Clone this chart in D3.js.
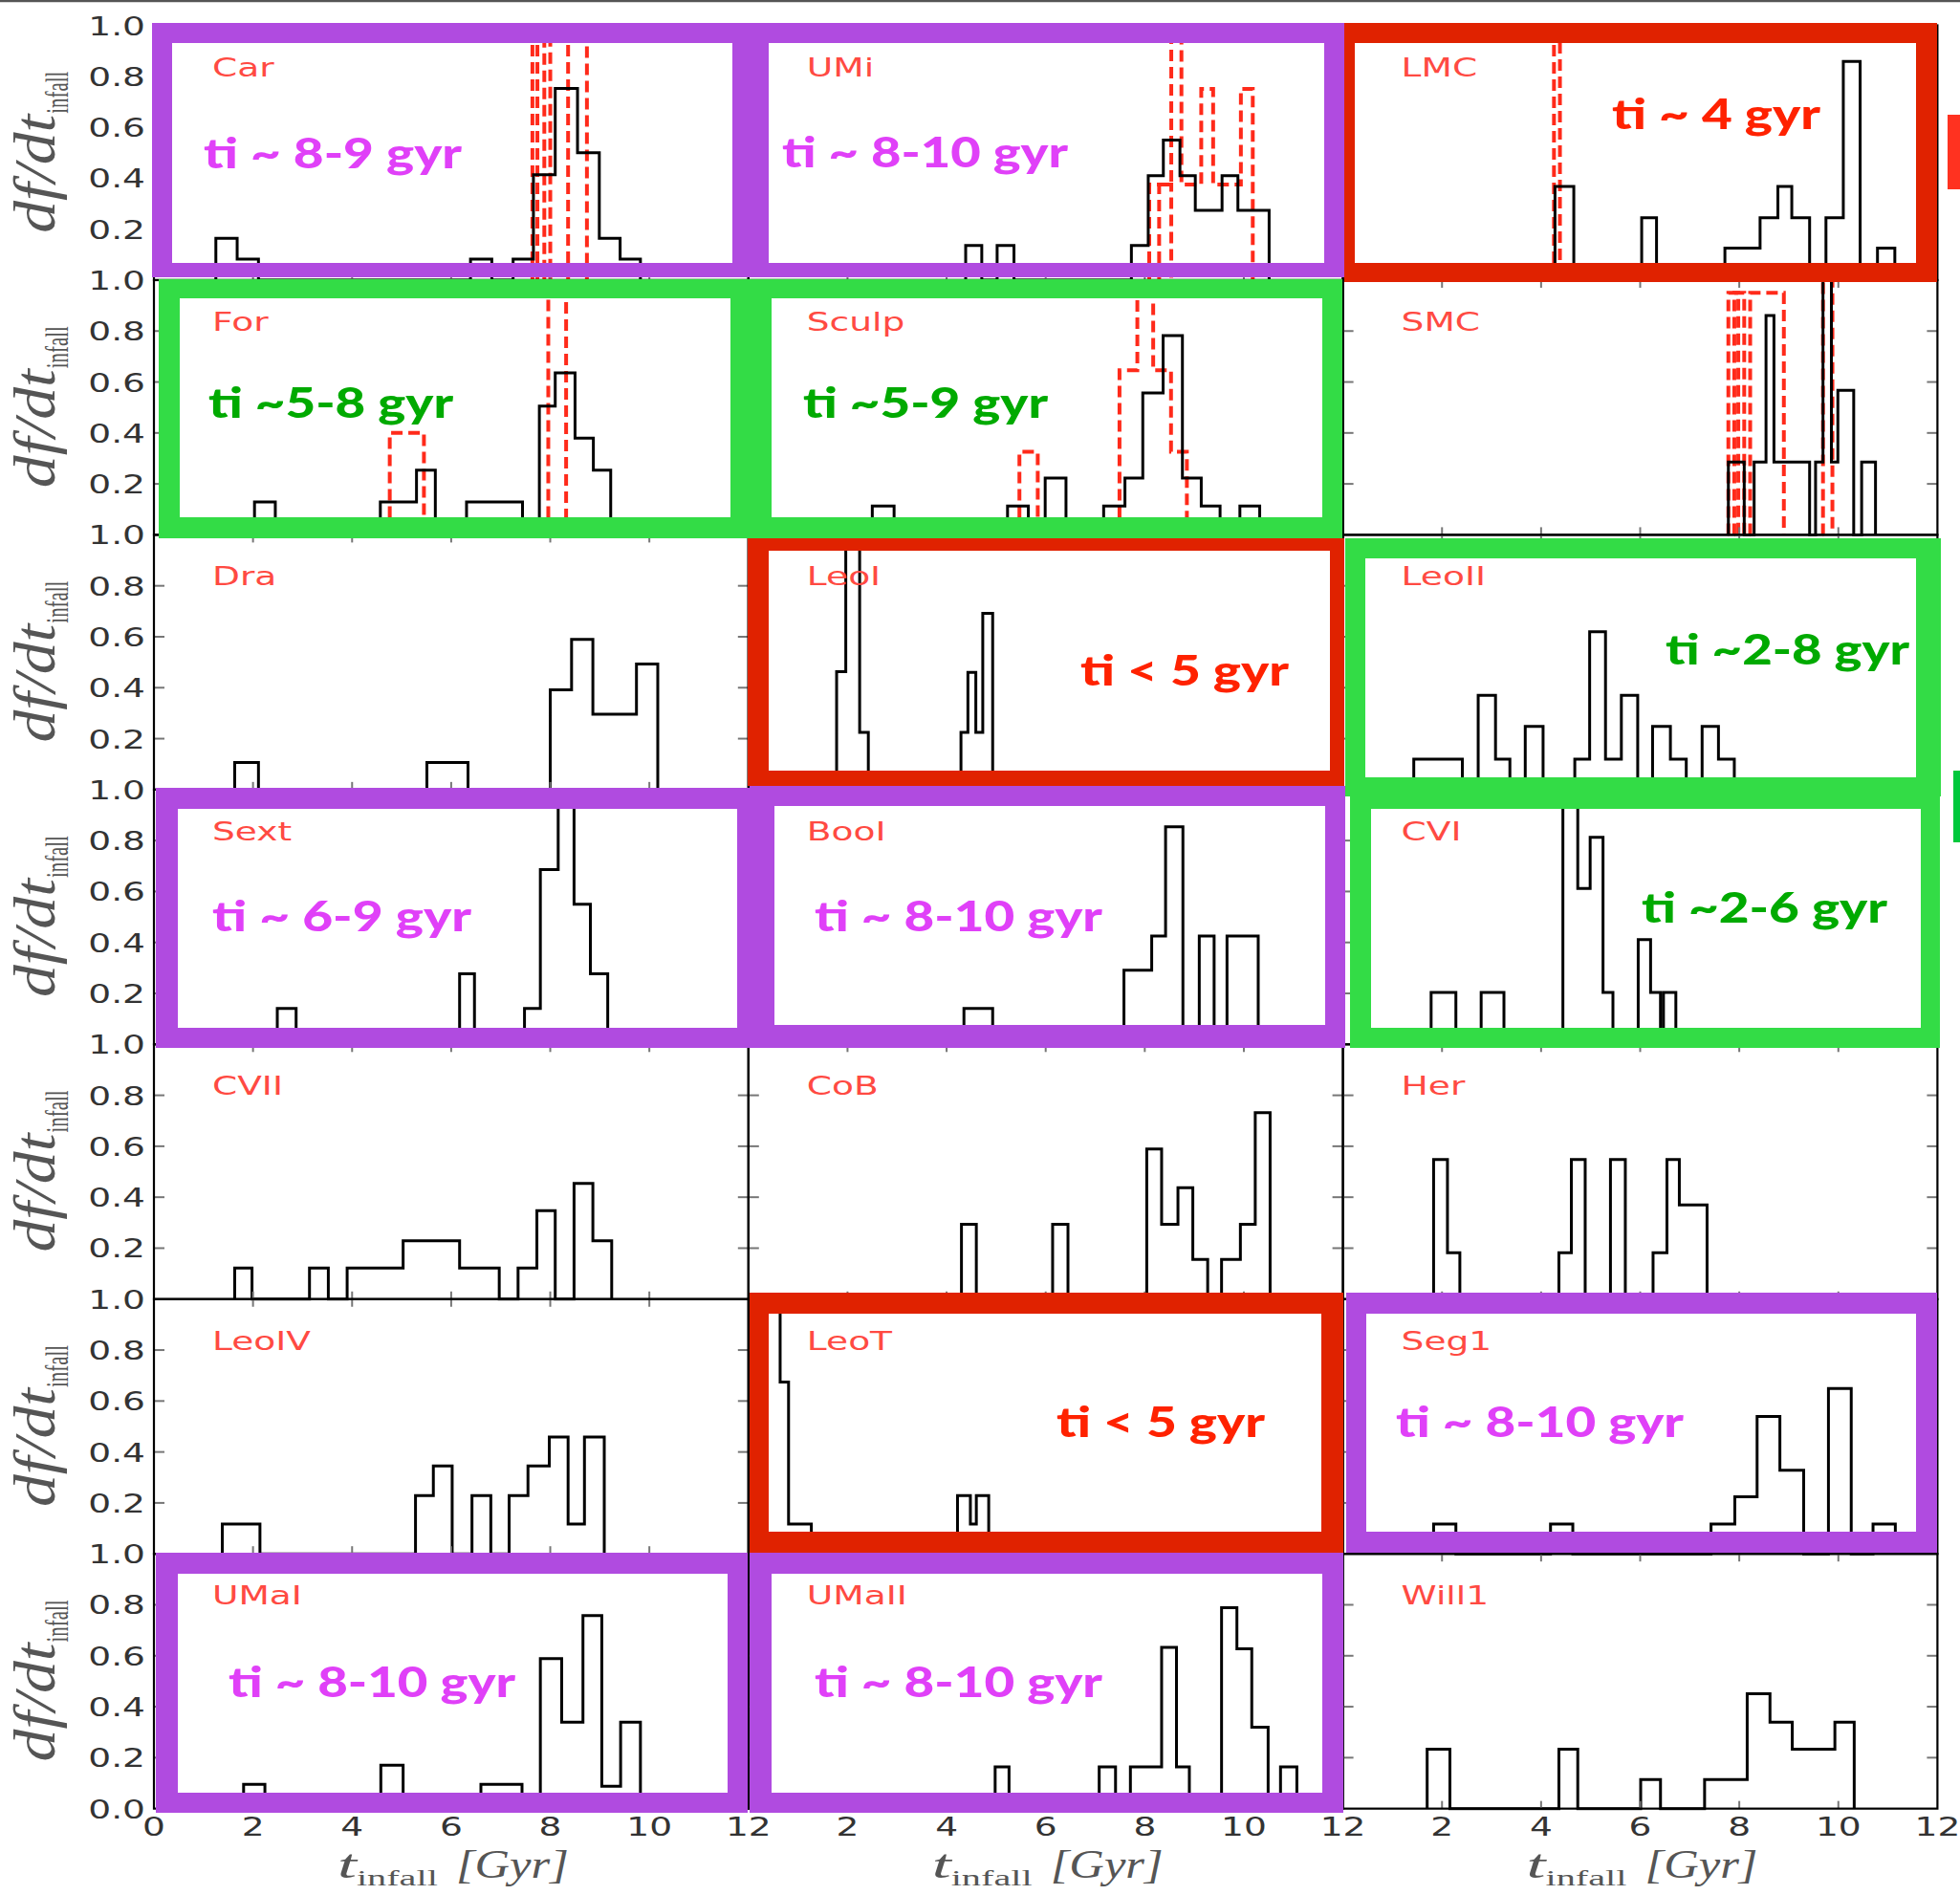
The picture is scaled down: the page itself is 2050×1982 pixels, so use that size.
<!DOCTYPE html>
<html><head><meta charset="utf-8">
<script src="https://cdn.jsdelivr.net/npm/d3@7"></script>
<style>body{margin:0;background:#fff}svg{display:block}</style>
</head><body><svg id="c" width="2050" height="1982"></svg>
<script>
// ---------------- DATA ----------------
const panelNames = ["Car","UMi","LMC","For","Sculp","SMC","Dra","LeoI","LeoII","Sext","BooI","CVI","CVII","CoB","Her","LeoIV","LeoT","Seg1","UMaI","UMaII","Will1"];
// step lists: [edge, height from this edge on]; last entry returns to 0
const Car_black = [[1.25,0.164],[1.68,0.082],[2.11,0],[6.39,0.082],[6.82,0],[7.25,0.082],[7.66,0.414],[8.10,0.752],[8.55,0.5],[8.99,0.164],[9.41,0.082],[9.82,0]];
const Car_red1 = [[7.64,1.3],[7.88,0]];
const Car_red2 = [[7.74,1.3],[8.0,0]];
const Car_red3 = [[8.36,1.3],[8.74,0]];
const UMi_black = [[4.385,0.136],[4.71,0],[5.02,0.136],[5.36,0],[7.73,0.136],[8.07,0.41],[8.375,0.55],[8.71,0.41],[9.02,0.274],[9.56,0.41],[9.88,0.274],[10.51,0]];
const UMi_red1 = [[8.09,0.375],[8.535,1.3],[8.74,0.375],[9.14,0.75],[9.38,0.375],[9.94,0.75],[10.18,0]];
const UMi_red2 = [[8.29,0.375],[8.535,0]];
const LMC_black = [[4.28,0.368],[4.66,0],[6.03,0.245],[6.33,0],[7.71,0.126],[8.42,0.245],[8.78,0.368],[9.06,0.245],[9.42,0],[9.75,0.245],[10.1,0.858],[10.44,0],[10.79,0.126],[11.14,0]];
const LMC_red1 = [[4.26,1.3],[4.38,0]];
const For_black = [[2.03,0.129],[2.45,0],[4.57,0.129],[5.3,0.254],[5.68,0],[6.31,0.129],[7.44,0],[7.78,0.505],[8.1,0.636],[8.5,0.38],[8.87,0.254],[9.22,0]];
const For_red1 = [[4.76,0.4],[5.45,0]];
const For_red2 = [[7.96,1.3],[8.32,0]];
const Sculp_black = [[2.5,0.113],[2.94,0],[5.23,0.113],[5.65,0],[5.99,0.223],[6.41,0],[7.17,0.113],[7.6,0.223],[7.96,0.557],[8.37,0.782],[8.76,0.223],[9.14,0.113],[9.52,0],[9.92,0.113],[10.32,0]];
const Sculp_red1 = [[5.47,0.326],[5.84,0]];
const Sculp_red2 = [[7.49,0.646],[7.85,1.3],[8.17,0.646],[8.53,0.326],[8.85,0]];
const SMC_black = [[7.78,0.286],[8.1,0],[8.3,0.286],[8.54,0.861],[8.7,0.286],[9.42,0],[9.54,0.286],[9.69,1.3],[9.86,0.286],[9.99,0.567],[10.31,0],[10.47,0.286],[10.75,0]];
const SMC_red1 = [[7.78,0.95],[7.98,0]];
const SMC_red2 = [[7.9,0.95],[8.1,0]];
const SMC_red3 = [[8.22,0.95],[8.9,0]];
const SMC_red4 = [[9.69,1.3],[9.88,0]];
const Dra_black = [[1.63,0.106],[2.11,0],[5.51,0.106],[6.34,0],[8.0,0.392],[8.43,0.59],[8.86,0.296],[9.74,0.493],[10.17,0]];
const LeoI_black = [[1.78,0.463],[1.965,1.3],[2.245,0.225],[2.42,0],[4.29,0.225],[4.43,0.46],[4.59,0.225],[4.73,0.692],[4.93,0]];
const LeoII_black = [[1.43,0.12],[2.41,0],[2.73,0.37],[3.08,0.12],[3.37,0],[3.68,0.248],[4.04,0],[4.68,0.12],[4.98,0.62],[5.3,0.12],[5.62,0.37],[5.95,0],[6.25,0.248],[6.61,0.12],[6.93,0],[7.25,0.248],[7.58,0.12],[7.9,0]];
const Sext_black = [[2.49,0.141],[2.87,0],[6.17,0.277],[6.47,0],[7.48,0.141],[7.8,0.686],[8.16,1.3],[8.48,0.55],[8.81,0.277],[9.16,0]];
const BooI_black = [[4.35,0.141],[4.93,0],[7.58,0.291],[8.14,0.425],[8.42,0.854],[8.77,0],[9.1,0.425],[9.4,0],[9.66,0.425],[10.29,0]];
const CVI_black = [[1.78,0.204],[2.28,0],[2.79,0.204],[3.25,0],[4.44,1.3],[4.74,0.612],[4.99,0.813],[5.25,0.204],[5.45,0],[5.96,0.411],[6.21,0.204],[6.41,0],[6.47,0.204],[6.72,0]];
const CVII_black = [[1.63,0.122],[1.98,0],[3.14,0.122],[3.52,0],[3.9,0.122],[5.03,0.229],[6.17,0.122],[6.97,0],[7.35,0.122],[7.73,0.347],[8.1,0],[8.48,0.454],[8.86,0.229],[9.24,0]];
const CoB_black = [[4.3,0.294],[4.6,0],[6.14,0.294],[6.45,0],[8.04,0.589],[8.34,0.294],[8.67,0.437],[8.97,0.156],[9.27,0],[9.55,0.156],[9.93,0.294],[10.23,0.732],[10.53,0]];
const Her_black = [[1.83,0.548],[2.11,0.182],[2.36,0],[4.36,0.182],[4.61,0.548],[4.89,0],[5.4,0.548],[5.7,0],[6.26,0.182],[6.54,0.548],[6.79,0.37],[7.35,0]];
const LeoIV_black = [[1.38,0.117],[2.14,0],[5.28,0.229],[5.64,0.345],[6.02,0],[6.42,0.229],[6.8,0],[7.17,0.229],[7.55,0.345],[7.98,0.459],[8.36,0.117],[8.69,0.459],[9.09,0]];
const LeoT_black = [[0.3,1.3],[0.64,0.674],[0.81,0.117],[1.27,0],[4.22,0.229],[4.48,0.117],[4.6,0.229],[4.85,0]];
const Seg1_black = [[1.83,0.117],[2.28,0],[4.19,0.117],[4.64,0],[7.43,0.117],[7.91,0.224],[8.36,0.539],[8.82,0.328],[9.3,0],[9.8,0.649],[10.26,0],[10.7,0.117],[11.15,0]];
const UMaI_black = [[1.81,0.095],[2.24,0],[4.58,0.17],[5.03,0],[6.6,0.095],[7.43,0],[7.8,0.589],[8.23,0.339],[8.66,0.758],[9.04,0.088],[9.42,0.339],[9.82,0]];
const UMaII_black = [[4.98,0.164],[5.26,0],[7.08,0.164],[7.41,0],[7.71,0.164],[8.34,0.633],[8.64,0.164],[8.9,0],[9.55,0.789],[9.86,0.627],[10.16,0.32],[10.49,0],[10.74,0.164],[11.07,0]];
const Will1_black = [[1.7,0.233],[2.16,0],[4.36,0.233],[4.74,0],[6.01,0.114],[6.41,0],[7.3,0.114],[8.16,0.451],[8.62,0.339],[9.07,0.233],[9.93,0.339],[10.32,0]];

const blackSeries = [Car_black,UMi_black,LMC_black,For_black,Sculp_black,SMC_black,Dra_black,LeoI_black,LeoII_black,Sext_black,BooI_black,CVI_black,CVII_black,CoB_black,Her_black,LeoIV_black,LeoT_black,Seg1_black,UMaI_black,UMaII_black,Will1_black];
const redSeries = {Car:[Car_red1,Car_red2,Car_red3], UMi:[UMi_red1,UMi_red2], LMC:[LMC_red1], For:[For_red1,For_red2], Sculp:[Sculp_red1,Sculp_red2], SMC:[SMC_red1,SMC_red2,SMC_red3,SMC_red4]};

const xTickValues = [0,2,4,6,8,10,12];
const yTickValues = [0.2,0.4,0.6,0.8];
const yTickLabels = ["0.2","0.4","0.6","0.8"];
const yTopLabel = "1.0", yBottomLabel = "0.0";

// annotation texts (highlight boxes)
const annotPanels = ["Car","UMi","LMC","For","Sculp","LeoI","LeoII","Sext","BooI","CVI","LeoT","Seg1","UMaI","UMaII"];
const annotTexts  = ["ti ~ 8-9 gyr","ti ~ 8-10 gyr","ti ~ 4 gyr","ti ~5-8 gyr","ti ~5-9 gyr","ti < 5 gyr","ti ~2-8 gyr","ti ~ 6-9 gyr","ti ~ 8-10 gyr","ti ~2-6 gyr","ti < 5 gyr","ti ~ 8-10 gyr","ti ~ 8-10 gyr","ti ~ 8-10 gyr"];
const annotKinds  = ["purple","purple","red","green","green","red","green","purple","purple","green","red","purple","purple","purple"];

// ---------------- LAYOUT / STYLE ----------------
const colLeft0 = 161, colW = 621.8, rowTop0 = 26.5, rowH = 266.45;
const boxColor = {purple:"#B04BE0", green:"#33DC46", red:"#E02200"};
const annColor = {purple:"#E040F8", green:"#00AA00", red:"#FF2200"};
const SX = 1.39; // horizontal stretch of the original figure
const boxGeom = {
  Car:[[159,24,784,290],[180,45,766,275]],
  UMi:[[780,24,1406,290],[804,45,1385,275]],
  LMC:[[1406,24,2026,295],[1417,45,2004,275]],
  For:[[166,292,786,563],[188,312,764,541]],
  Sculp:[[782,292,1404,563],[807,312,1383,541]],
  LeoI:[[782,563,1406,822],[804,576,1391,806]],
  LeoII:[[1407,563,2030,833],[1428,584,2004,813]],
  Sext:[[163,824,784,1096],[186,846,771,1075]],
  BooI:[[784,822,1407,1096],[810,843,1386,1072]],
  CVI:[[1412,833,2029,1096],[1434,846,2009,1075]],
  LeoT:[[784,1352,1405,1625],[804,1374,1382,1602]],
  Seg1:[[1408,1352,2026,1624],[1429,1374,2004,1602]],
  UMaI:[[163,1624,782,1896],[186,1646,761,1875]],
  UMaII:[[784,1624,1405,1896],[807,1646,1383,1875]]
};
const annotPos = {
  Car:[213,176,270], UMi:[818,175,299], LMC:[1686,135,218], For:[218,437,256], Sculp:[840,437,256],
  LeoI:[1130,717,218], LeoII:[1742,695,255], Sext:[222,974,271], BooI:[852,974,301], CVI:[1717,965,257],
  LeoT:[1105,1503,218], Seg1:[1460,1503,301], UMaI:[239,1775,300], UMaII:[852,1775,301]
};

const svg = d3.select("#c");
svg.append("rect").attr("width",2050).attr("height",1982).attr("fill","#fff");
svg.append("line").attr("x1",0).attr("x2",2050).attr("y1",1).attr("y2",1).attr("stroke","#555").attr("stroke-width",2.5);
const defs = svg.append("defs");

function stretchedText(g, x, y, str, size, anchor, fill, family, sx) {
  return g.append("text").attr("transform", `translate(${x},${y}) scale(${sx},1)`)
    .attr("text-anchor", anchor).attr("font-family", family).attr("font-size", size)
    .attr("fill", fill).text(str);
}

const panels = panelNames.map((name,i) => {
  const r = Math.floor(i/3), c = i%3;
  const left = colLeft0 + c*colW, top = rowTop0 + r*rowH;
  const x = d3.scaleLinear().domain([0,12]).range([left, left+colW]);
  const y = d3.scaleLinear().domain([0,1]).range([top+rowH, top]);
  return {name, i, r, c, x, y, left, top, black: blackSeries[i], red: redSeries[name] || []};
});

const lineGen = (x,y) => d3.line().x(d=>x(d[0])).y(d=>y(d[1])).curve(d3.curveStepAfter);
function stepPoints(steps){ return [[steps[0][0],0], ...steps]; }

const gHist = svg.append("g");
panels.forEach(p => {
  const cid = "clip"+p.i;
  defs.append("clipPath").attr("id",cid).append("rect")
    .attr("x",p.left).attr("y",p.top).attr("width",colW).attr("height",rowH+2);
  const g = gHist.append("g").attr("clip-path",`url(#${cid})`);
  const lg = lineGen(p.x,p.y);
  p.red.forEach(s => {
    g.append("path").attr("d", lg(stepPoints(s))).attr("fill","none")
      .attr("stroke","#FF2A1A").attr("stroke-width",4).attr("stroke-dasharray","12,6");
  });
  g.append("path").attr("d", lg(stepPoints(p.black))).attr("fill","none")
    .attr("stroke","#000").attr("stroke-width",3);
});

// spines and ticks
const gAx = svg.append("g");
panels.forEach(p => {
  const [x0,x1] = p.x.range(), [y1,y0] = p.y.range();
  xTickValues.slice(1,-1).forEach(t => {
    gAx.append("line").attr("x1",p.x(t)).attr("x2",p.x(t)).attr("y1",y1).attr("y2",y1-8).attr("stroke","#777").attr("stroke-width",2);
    gAx.append("line").attr("x1",p.x(t)).attr("x2",p.x(t)).attr("y1",y0).attr("y2",y0+8).attr("stroke","#777").attr("stroke-width",2);
  });
  yTickValues.forEach(v => {
    gAx.append("line").attr("x1",x0).attr("x2",x0+11).attr("y1",p.y(v)).attr("y2",p.y(v)).attr("stroke","#777").attr("stroke-width",2);
    gAx.append("line").attr("x1",x1).attr("x2",x1-11).attr("y1",p.y(v)).attr("y2",p.y(v)).attr("stroke","#777").attr("stroke-width",2);
  });
  gAx.append("rect").attr("x",x0).attr("y",y0).attr("width",x1-x0).attr("height",y1-y0)
    .attr("fill","none").attr("stroke","#000").attr("stroke-width",2.2);
  stretchedText(gAx, x0+61, y0+53, p.name, 27, "start", "#FF4A42", "DejaVu Sans", SX);
});

// highlight boxes + annotation texts
const gBox = svg.append("g");
annotPanels.forEach((name,k) => {
  const [o,inn] = boxGeom[name];
  const d = `M${o[0]},${o[1]}H${o[2]}V${o[3]}H${o[0]}Z M${inn[0]},${inn[1]}H${inn[2]}V${inn[3]}H${inn[0]}Z`;
  gBox.append("path").attr("d",d).attr("fill",boxColor[annotKinds[k]]).attr("fill-rule","evenodd");
});
annotPanels.forEach((name,k) => {
  const [ax,ay,aw] = annotPos[name];
  gBox.append("text").attr("x",ax).attr("y",ay).attr("font-family","Lato, 'Open Sans', sans-serif")
    .attr("font-weight",900).attr("font-size",44).attr("fill",annColor[annotKinds[k]])
    .attr("textLength",aw).attr("lengthAdjust","spacingAndGlyphs").text(annotTexts[k]);
});

// side marks at right edge
svg.append("rect").attr("x",2037).attr("y",120).attr("width",13).attr("height",78).attr("fill","#FF3220");
svg.append("rect").attr("x",2043).attr("y",806).attr("width",7).attr("height",75).attr("fill","#00C83C");

// tick labels
const gLab = svg.append("g");
const nRows = 7;
for (let r=0; r<nRows; r++){
  const p = panels[r*3];
  stretchedText(gLab, 152, p.y(1)+10, yTopLabel, 27, "end", "#333", "DejaVu Sans", SX);
  yTickValues.forEach((v,j) => stretchedText(gLab, 152, p.y(v)+10, yTickLabels[j], 27, "end", "#333", "DejaVu Sans", SX));
  if (r===nRows-1) stretchedText(gLab, 152, p.y(0)+10, yBottomLabel, 27, "end", "#333", "DejaVu Sans", SX);
  const cy = p.y(0.5);
  const g = gLab.append("g").attr("transform",`translate(57,${cy}) scale(${SX},1) rotate(-90)`);
  g.append("text").attr("x",-84).attr("y",0).attr("font-family","'Liberation Serif', serif").attr("font-style","italic")
    .attr("font-size",44).attr("fill","#555").attr("textLength",124).attr("lengthAdjust","spacingAndGlyphs").text("df/dt");
  g.append("text").attr("x",41).attr("y",10).attr("font-family","'Liberation Serif', serif")
    .attr("font-size",24).attr("fill","#555").attr("textLength",44).attr("lengthAdjust","spacingAndGlyphs").text("infall");
}
for (let c=0; c<3; c++){
  const p = panels[18+c];
  xTickValues.forEach(t => {
    if (c>0 && t===0) return;
    stretchedText(gLab, p.x(t), 1920, String(t), 27, "middle", "#333", "DejaVu Sans", SX);
  });
  const cx = p.x(6);
  gLab.append("text").attr("x",cx-119).attr("y",1964).attr("font-family","'Liberation Serif', serif").attr("font-style","italic")
    .attr("font-size",42).attr("fill","#555").attr("textLength",20).attr("lengthAdjust","spacingAndGlyphs").text("t");
  gLab.append("text").attr("x",cx-99).attr("y",1972).attr("font-family","'Liberation Serif', serif")
    .attr("font-size",24).attr("fill","#555").attr("textLength",85).attr("lengthAdjust","spacingAndGlyphs").text("infall");
  gLab.append("text").attr("x",cx+5).attr("y",1964).attr("font-family","'Liberation Serif', serif").attr("font-style","italic")
    .attr("font-size",42).attr("fill","#555").attr("textLength",118).attr("lengthAdjust","spacingAndGlyphs").text("[Gyr]");
}
</script></body></html>
